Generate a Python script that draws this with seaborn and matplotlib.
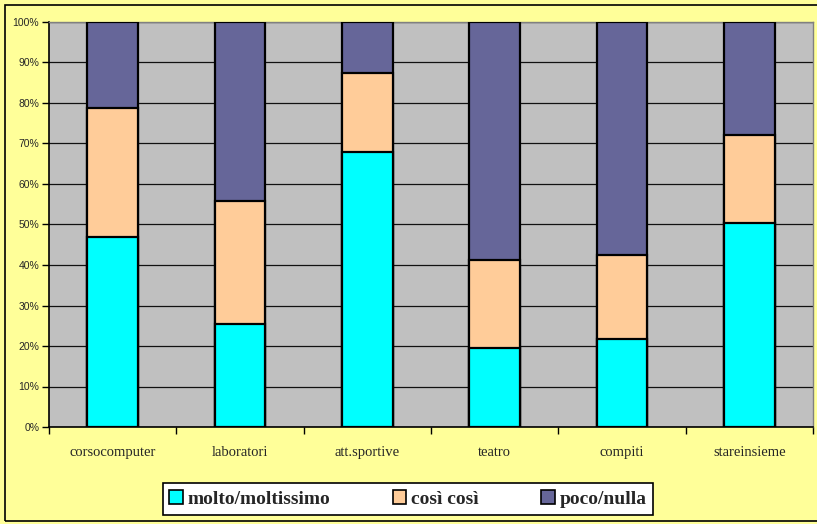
import numpy as np
import pandas as pd
import matplotlib
matplotlib.use('Agg')
import matplotlib.pyplot as plt
from matplotlib.patches import Rectangle, Patch
from matplotlib.ticker import PercentFormatter
import seaborn as sns

# data (percent)
categories = ['corsocomputer', 'laboratori', 'att.sportive', 'teatro', 'compiti', 'stareinsieme']
molto = [46.9, 25.4, 67.9, 19.5, 21.7, 50.4]
cosi = [31.9, 30.4, 19.5, 21.7, 20.8, 21.7]
poco = [21.2, 44.2, 12.6, 58.8, 57.5, 27.9]

series_names = ['molto/moltissimo', 'così così', 'poco/nulla']
colors = ['#00FFFF', '#FFCC99', '#666699']

df = pd.DataFrame({'cat': categories, 'molto': molto, 'cosi': cosi, 'poco': poco})
df['c2'] = df['molto'] + df['cosi']
df['c3'] = df['c2'] + df['poco']

sns.set_style('white')
plt.rcParams['font.family'] = ['Liberation Sans', 'DejaVu Sans']

fig = plt.figure(figsize=(8.17, 5.24), dpi=100)
fig.patch.set_facecolor('#FFFF99')
ax = fig.add_axes([49 / 817, 97 / 524, 764 / 817, 405 / 524])
ax.set_facecolor('#C0C0C0')

# stacked bars drawn as overlapping cumulative totals
for col, c in zip(['c3', 'c2', 'molto'], colors[::-1]):
    sns.barplot(data=df, x='cat', y=col, color=c, width=0.4,
                edgecolor='black', linewidth=1.6, ax=ax, saturation=1, zorder=3)

ax.set_ylim(0, 100)
ax.set_xlim(-0.5, 5.5)
ax.set_yticks(np.arange(0, 101, 10))
ax.yaxis.set_major_formatter(PercentFormatter(decimals=0))
ax.grid(axis='y', color='#111111', linewidth=0.9, zorder=0)
ax.set_axisbelow(True)
ax.set_xlabel('')
ax.set_ylabel('')

ax.tick_params(axis='y', direction='out', length=5, width=1, color='black',
               labelsize=7.5, pad=2, left=True)
ax.set_xticks(range(len(categories)))
ax.set_xticklabels(categories, family=['Liberation Serif'], fontsize=10.5)
ax.tick_params(axis='x', length=0, pad=14)
ax.set_xticks(np.arange(-0.5, 6, 1), minor=True)
ax.tick_params(axis='x', which='minor', direction='out', length=5, width=1, color='black', bottom=True)

for s in ['left', 'bottom']:
    ax.spines[s].set_color('black')
    ax.spines[s].set_linewidth(1.2)
for s in ['top', 'right']:
    ax.spines[s].set_color('#808080')
    ax.spines[s].set_linewidth(1)

# outer chart border
fig.patches.append(Rectangle((5 / 817, 3 / 524), 830 / 817, 516 / 524,
                             transform=fig.transFigure, fill=False,
                             edgecolor='black', linewidth=1.2))

handles = [Patch(facecolor=c, edgecolor='black', linewidth=1.2) for c in colors]
leg = fig.legend(handles, series_names, loc='center', bbox_to_anchor=(408 / 817, 1 - 499 / 524),
                 ncol=3, frameon=True, fancybox=False, edgecolor='black', framealpha=1,
                 prop={'family': 'Liberation Serif', 'weight': 'bold', 'size': 14},
                 handlelength=0.7, handleheight=0.7, handletextpad=0.25, columnspacing=3.2,
                 borderpad=0.35)
leg.get_frame().set_linewidth(1.2)

fig.savefig('out.png', dpi=100, facecolor=fig.get_facecolor())
